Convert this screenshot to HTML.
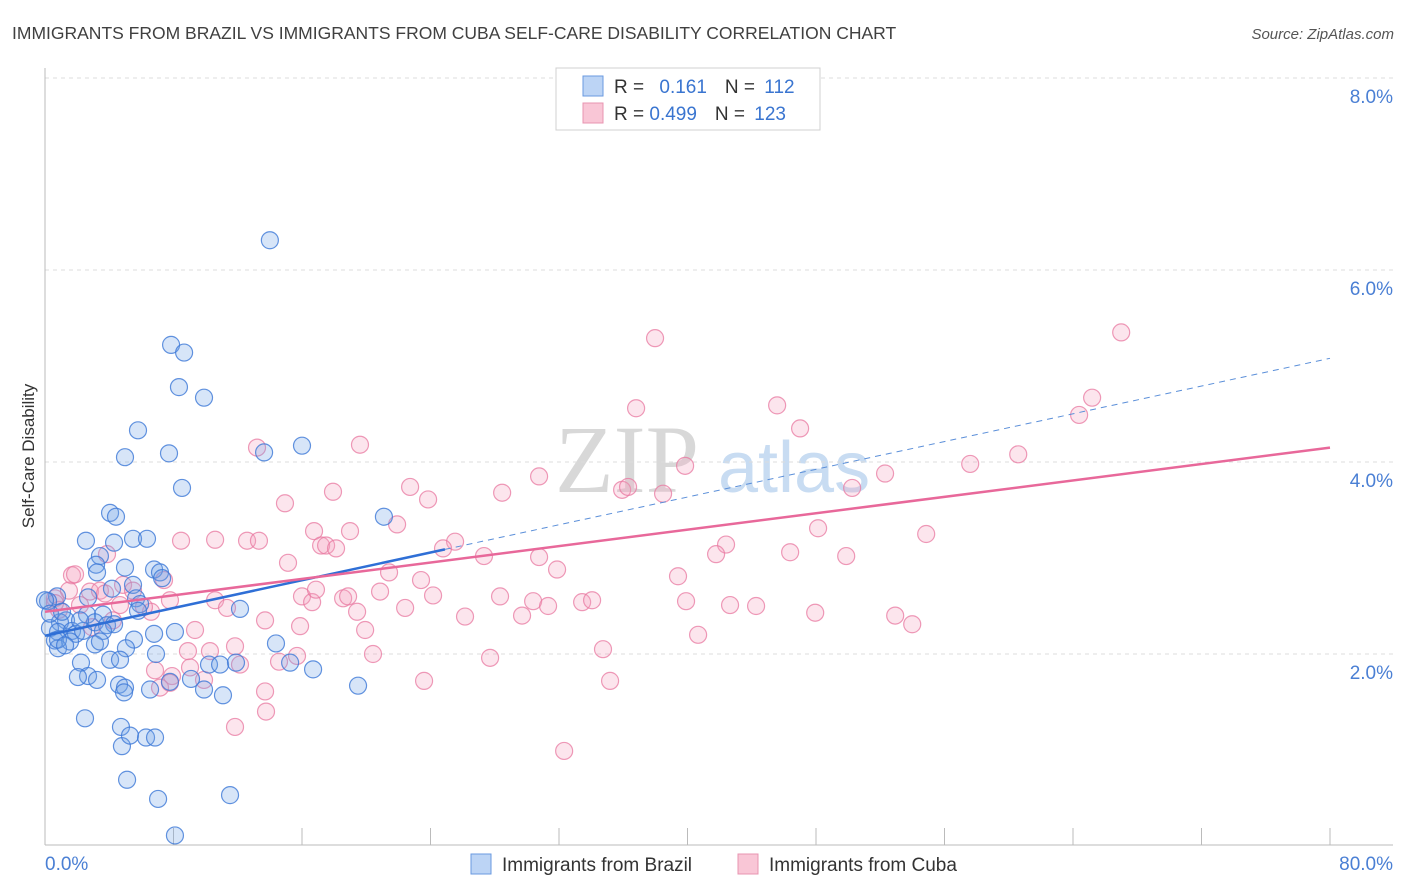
<!DOCTYPE html>
<html><head><meta charset="utf-8"><style>
body{margin:0;background:#fff;font-family:"Liberation Sans",sans-serif;}
#wrap{position:relative;width:1406px;height:892px;overflow:hidden;}
</style></head><body>
<div id="wrap">
<svg id="svg" width="1406" height="892" style="position:absolute;left:0;top:0">
<text x="12" y="39" font-size="17.5" fill="#404040">IMMIGRANTS FROM BRAZIL VS IMMIGRANTS FROM CUBA SELF-CARE DISABILITY CORRELATION CHART</text>
<text x="1394" y="39" font-size="15" fill="#555" font-style="italic" text-anchor="end">Source: ZipAtlas.com</text>
<text x="555" y="492" font-size="96" fill="#d8d8d8" font-family="Liberation Serif,serif">ZIP</text>
<text x="718" y="492" font-size="72" fill="#c8dcf2">atlas</text>
<text transform="translate(34,456) rotate(-90)" font-size="17" fill="#333" text-anchor="middle">Self-Care Disability</text>
<g id="grid"></g><g id="axes"></g><g id="pts"></g><g id="lines"></g>
<g>
<rect x="556" y="68" width="264" height="62" fill="#fff" stroke="#d0d0d0"/>
<rect x="583" y="76" width="20" height="20" fill="#bcd4f5" stroke="#6a9ae0"/>
<rect x="583" y="103" width="20" height="20" fill="#f9c6d6" stroke="#e894b0"/>
<text x="614" y="93" font-size="19" fill="#333">R = <tspan fill="#3a75d0" dx="10">0.161</tspan><tspan dx="18" fill="#333">N = </tspan><tspan fill="#3a75d0" dx="4">112</tspan></text>
<text x="614" y="120" font-size="19" fill="#333">R = <tspan fill="#3a75d0">0.499</tspan><tspan dx="18" fill="#333">N = </tspan><tspan fill="#3a75d0" dx="4">123</tspan></text>
</g>
<g>
<rect x="471" y="854" width="20" height="20" fill="#bcd4f5" stroke="#6a9ae0"/>
<text x="502" y="871" font-size="19" fill="#333">Immigrants from Brazil</text>
<rect x="738" y="854" width="20" height="20" fill="#f9c6d6" stroke="#e894b0"/>
<text x="769" y="871" font-size="19" fill="#333">Immigrants from Cuba</text>
</g>
</svg>
</div>
<script>
const brazilX=[14.0,7.85,8.66,8.34,9.90,5.79,7.72,4.98,13.64,16.0,8.53,21.1,4.05,4.42,2.55,5.48,6.35,4.30,3.42,3.18,4.98,3.24,6.79,7.16,7.29,5.48,4.17,0.75,0.19,2.68,5.67,5.92,5.79,12.14,2.62,3.61,1.31,0.93,3.11,3.86,4.30,0.31,0.81,1.68,1.93,2.37,3.61,6.79,8.09,5.54,0.62,1.56,0.81,3.11,3.42,5.04,6.91,14.38,4.05,4.67,10.21,10.90,11.89,15.26,16.69,2.24,2.68,2.05,3.24,4.61,4.98,4.92,6.54,7.78,9.09,9.90,11.08,19.49,2.49,4.73,4.79,5.29,6.29,6.85,5.11,7.04,11.52,8.09,0,0.31,1.06,2.18,0.81,1.25];
const brazilY=[6.31,5.22,5.14,4.78,4.67,4.33,4.09,4.05,4.10,4.17,3.73,3.43,3.47,3.43,3.18,3.20,3.20,3.16,3.02,2.93,2.90,2.85,2.88,2.85,2.79,2.72,2.68,2.60,2.55,2.59,2.58,2.52,2.45,2.47,2.41,2.41,2.35,2.33,2.33,2.30,2.31,2.27,2.23,2.24,2.21,2.24,2.24,2.21,2.23,2.15,2.14,2.13,2.06,2.10,2.13,2.06,2.00,2.11,1.94,1.94,1.89,1.89,1.91,1.91,1.84,1.91,1.77,1.76,1.73,1.68,1.65,1.60,1.63,1.71,1.74,1.63,1.57,1.67,1.33,1.24,1.04,1.15,1.13,1.13,0.69,0.49,0.53,0.11,2.56,2.42,2.44,2.35,2.15,2.09];
const cubaX=[37.98,67.0,65.19,64.38,45.58,47.01,36.80,19.61,13.2,39.85,57.6,60.59,52.3,30.76,50.25,22.73,17.93,23.85,28.46,35.93,36.3,38.48,14.94,21.92,18.99,16.75,8.47,10.59,12.58,13.32,25.53,24.78,42.4,54.86,48.13,17.19,17.50,18.12,3.86,27.33,30.76,41.78,46.39,49.88,15.13,1.68,21.42,31.88,39.41,7.41,1.87,4.86,23.41,16.0,16.63,16.87,18.56,18.87,20.86,24.16,28.33,30.39,31.32,33.44,34.06,39.91,42.65,44.27,1.49,0.62,0.87,2.80,3.42,5.48,7.78,10.59,11.33,6.60,6.16,4.23,2.93,22.42,19.43,26.15,29.70,47.95,52.93,53.99,13.70,15.88,19.93,40.66,9.34,11.83,12.14,8.90,10.27,20.42,34.74,27.71,6.85,9.03,14.57,7.91,15.69,7.16,7.78,13.70,9.90,35.18,23.60,13.76,11.83,32.32,0.62,2.18,4.67,3.74];
const cubaY=[5.29,5.35,4.67,4.49,4.59,4.35,4.56,4.18,4.15,3.96,3.98,4.08,3.88,3.85,3.73,3.74,3.69,3.61,3.68,3.71,3.74,3.67,3.57,3.35,3.28,3.28,3.18,3.19,3.18,3.18,3.17,3.10,3.14,3.25,3.31,3.13,3.13,3.10,3.04,3.02,3.01,3.04,3.06,3.02,2.95,2.82,2.85,2.88,2.81,2.77,2.83,2.72,2.77,2.60,2.54,2.67,2.58,2.60,2.65,2.61,2.60,2.55,2.50,2.54,2.56,2.55,2.51,2.50,2.66,2.58,2.46,2.65,2.66,2.66,2.56,2.56,2.48,2.44,2.49,2.35,2.28,2.48,2.44,2.39,2.40,2.43,2.40,2.31,2.35,2.29,2.25,2.20,2.25,2.08,1.89,2.03,2.03,2.0,2.05,1.96,1.83,1.86,1.92,1.77,1.98,1.65,1.70,1.61,1.73,1.72,1.72,1.40,1.24,0.99,2.53,2.51,2.51,2.63];
const brazilTrend=[2.19,5.08]; const brazilSolidEnd=24.9;
const cubaTrend=[2.44,4.15];
const yTicks=[2,4,6,8]; const yTickLabels=["2.0%","4.0%","6.0%","8.0%"];
const xTicks=[0,8,16,24,32,40,48,56,64,72,80];
const NS="http://www.w3.org/2000/svg";
const X0=45,X1=1330,Y0=846,PY=96;
const sx=v=>X0+v/80*(X1-X0), sy=v=>Y0-v*PY;
function mk(p,t,a){const e=document.createElementNS(NS,t);for(const k in a)e.setAttribute(k,a[k]);p.appendChild(e);return e;}
const grid=document.getElementById('grid'),axes=document.getElementById('axes'),pts=document.getElementById('pts'),lines=document.getElementById('lines');
yTicks.forEach((v,i)=>{
 const l=mk(grid,'line',{x1:X0,x2:1393,y1:sy(v),y2:sy(v),stroke:'#dcdcdc','stroke-dasharray':'4,4'});
 
 
 const t=mk(grid,'text',{x:1393,y:sy(v)+25,'font-size':19,fill:'#4a7fd4','text-anchor':'end'});t.textContent=yTickLabels[i];
 
 
});
mk(axes,'line',{x1:X0,x2:X0,y1:68,y2:845,stroke:'#bbb'});
mk(axes,'line',{x1:X0,x2:1393,y1:845,y2:845,stroke:'#bbb'});
xTicks.forEach(v=>{ if(v===0)return;
 const l=mk(axes,'line',{x1:sx(v),x2:sx(v),y1:828,y2:845,stroke:'#bbb'});
 
 
});
const xl=mk(axes,'text',{x:45,y:870,'font-size':19,fill:'#4a7fd4'});xl.textContent='0.0%';


const xr=mk(axes,'text',{x:1393,y:870,'font-size':19,fill:'#4a7fd4','text-anchor':'end'});xr.textContent='80.0%';


cubaX.forEach((v,i)=>{const c=mk(pts,'circle',{cx:sx(v),cy:sy(cubaY[i]),r:8.5,fill:'rgba(244,160,190,0.28)',stroke:'rgba(232,120,160,0.75)','stroke-width':1.2});
 
 });
brazilX.forEach((v,i)=>{const c=mk(pts,'circle',{cx:sx(v),cy:sy(brazilY[i]),r:8.5,fill:'rgba(110,160,230,0.28)',stroke:'rgba(60,120,215,0.8)','stroke-width':1.2});
 
 });
const by=x=>brazilTrend[0]+(brazilTrend[1]-brazilTrend[0])*x/80;
const b1=mk(lines,'line',{x1:sx(0),y1:sy(by(0)),x2:sx(brazilSolidEnd),y2:sy(by(brazilSolidEnd)),stroke:'#2f6fd6','stroke-width':2.5});


const b2=mk(lines,'line',{x1:sx(brazilSolidEnd),y1:sy(by(brazilSolidEnd)),x2:sx(80),y2:sy(by(80)),stroke:'#5b8fd9','stroke-width':1,'stroke-dasharray':'6,5'});


const c1=mk(lines,'line',{x1:sx(0),y1:sy(cubaTrend[0]),x2:sx(80),y2:sy(cubaTrend[1]),stroke:'#e8689a','stroke-width':2.5});


</script>
</body></html>
